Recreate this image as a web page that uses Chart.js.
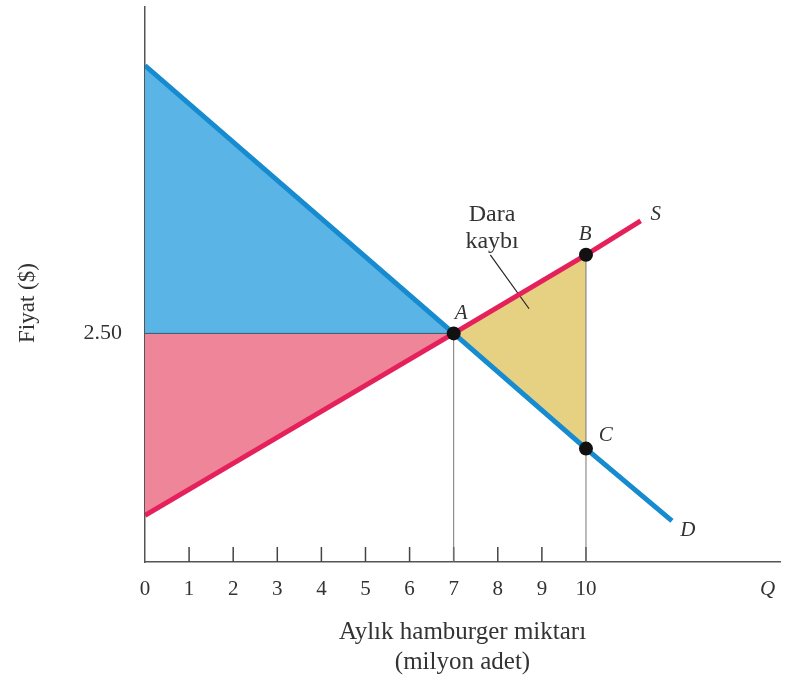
<!DOCTYPE html>
<html>
<head>
<meta charset="utf-8">
<script src="https://cdn.jsdelivr.net/npm/chart.js@4"></script>
<style>
  html, body { margin: 0; padding: 0; background: #fff; }
  #wrap { width: 788px; height: 684px; }
</style>
</head>
<body>
<div id="wrap"><canvas id="dwlChart"></canvas></div>
<script>
// quantity ticks (million burgers / month)
var qTicks = [0, 1, 2, 3, 4, 5, 6, 7, 8, 9, 10];
var qAxisName = 'Q';
var qAxisNamePos = 14.12;

// demand and supply curves
var demandQ = [0, 7, 10, 11.95];
var demandP = [5.43, 2.50, 1.24, 0.45];
var supplyQ = [0, 7, 10, 11.24];
var supplyP = [0.51, 2.50, 3.36, 3.73];

var eqPrice = 2.5;
var eqQ = 7;
var pricedQ = 10;

// marked points
var pointNames = ['A', 'B', 'C'];
var pointQ = [7, 10, 10];
var pointP = [2.50, 3.36, 1.24];

// text labels placed in data coordinates
var labelText = ['A', 'B', 'C', 'S', 'D'];
var labelQ = [7.17, 9.98, 10.45, 11.58, 12.31];
var labelP = [2.72, 3.58, 1.38, 3.80, 0.35];

var dwlLines = ['Dara', 'kaybı'];
var dwlQ = 7.87;
var dwlP = [3.80, 3.50];
var leaderQ = [7.83, 8.71];
var leaderP = [3.36, 2.77];

function pts(xs, ys) {
    return xs.map(function (q, i) { return { x: q, y: ys[i] }; });
}
function upTo(xs, ys, maxQ) {
    return pts(xs, ys).filter(function (p) { return p.x <= maxQ; });
}
function between(xs, ys, lo, hi) {
    return pts(xs, ys).filter(function (p) { return p.x >= lo && p.x <= hi; });
}

var serif = '"Liberation Serif", "DejaVu Serif", serif';

var annotate = {
    id: 'annotate',
    beforeDatasetsDraw: function (chart) {
        var ctx = chart.ctx, x = chart.scales.x, y = chart.scales.y;
        ctx.save();
        ctx.strokeStyle = '#444';
        ctx.lineWidth = 1.5;
        qTicks.slice(1).forEach(function (q) {
            var px = x.getPixelForValue(q);
            ctx.beginPath();
            ctx.moveTo(px, y.bottom);
            ctx.lineTo(px, y.bottom - 15);
            ctx.stroke();
        });
        ctx.restore();
    },
    afterDatasetsDraw: function (chart) {
        var ctx = chart.ctx, x = chart.scales.x, y = chart.scales.y;
        ctx.save();
        ctx.fillStyle = '#333';
        ctx.textAlign = 'center';
        ctx.textBaseline = 'middle';
        ctx.font = 'italic 21px ' + serif;
        labelText.forEach(function (t, i) {
            ctx.fillText(t, x.getPixelForValue(labelQ[i]), y.getPixelForValue(labelP[i]));
        });
        ctx.font = '24px ' + serif;
        dwlLines.forEach(function (t, i) {
            ctx.fillText(t, x.getPixelForValue(dwlQ), y.getPixelForValue(dwlP[i]));
        });
        // y axis title
        ctx.font = '23px ' + serif;
        ctx.translate(28, 303);
        ctx.rotate(-Math.PI / 2);
        ctx.fillText('Fiyat ($)', 0, 0);
        ctx.restore();
    }
};

new Chart(document.getElementById('dwlChart'), {
    type: 'line',
    data: {
        datasets: [
            {   // equilibrium and marked points
                data: pts(pointQ, pointP),
                showLine: false,
                pointRadius: 7,
                pointBackgroundColor: '#111',
                pointBorderWidth: 0,
                order: 0
            },
            {   // demand
                data: pts(demandQ, demandP),
                borderColor: '#168bcf',
                borderWidth: 5,
                pointRadius: 0,
                order: 1
            },
            {   // supply
                data: pts(supplyQ, supplyP),
                borderColor: '#e5215c',
                borderWidth: 5,
                pointRadius: 0,
                order: 1
            },
            {   // drop line at A
                data: pts([eqQ, eqQ], [0, eqPrice]),
                borderColor: '#777',
                borderWidth: 1,
                pointRadius: 0,
                order: 2
            },
            {   // drop line through B and C
                data: pts([pricedQ, pricedQ], [0, pointP[1]]),
                borderColor: '#777',
                borderWidth: 1,
                pointRadius: 0,
                order: 2
            },
            {   // leader line for dead-weight label
                data: pts(leaderQ, leaderP),
                borderColor: '#222',
                borderWidth: 1.2,
                pointRadius: 0,
                order: 2
            },
            {   // price line between the two surpluses
                data: pts([0, eqQ], [eqPrice, eqPrice]),
                borderColor: '#3a5a6a',
                borderWidth: 1,
                pointRadius: 0,
                order: 2
            },
            {   // consumer surplus
                data: upTo(demandQ, demandP, eqQ),
                borderWidth: 0,
                pointRadius: 0,
                backgroundColor: '#5ab4e6',
                fill: { value: eqPrice },
                order: 3
            },
            {   // producer surplus
                data: upTo(supplyQ, supplyP, eqQ),
                borderWidth: 0,
                pointRadius: 0,
                backgroundColor: '#ef8599',
                fill: { value: eqPrice },
                order: 3
            },
            {   // dead-weight loss, lower edge
                data: between(demandQ, demandP, eqQ, pricedQ),
                borderWidth: 0,
                pointRadius: 0,
                fill: false,
                order: 3
            },
            {   // dead-weight loss, upper edge filled down to dataset 9
                data: between(supplyQ, supplyP, eqQ, pricedQ),
                borderWidth: 0,
                pointRadius: 0,
                backgroundColor: '#e6d183',
                fill: 9,
                order: 3
            }
        ]
    },
    options: {
        responsive: true,
        maintainAspectRatio: false,
        animation: false,
        layout: { padding: { top: 4, right: 8, left: 0, bottom: 0 } },
        plugins: {
            legend: { display: false },
            tooltip: { enabled: false }
        },
        scales: {
            x: {
                type: 'linear',
                min: 0,
                max: 14.4,
                afterFit: function (scale) {
                    scale.height = 122;
                    scale.paddingLeft = 0;
                    scale.paddingRight = 0;
                },
                afterBuildTicks: function (scale) {
                    scale.ticks = qTicks.concat([qAxisNamePos]).map(function (v) { return { value: v }; });
                },
                grid: { display: false, drawTicks: false },
                border: { display: true, color: '#555', width: 1.5 },
                ticks: {
                    autoSkip: false,
                    maxRotation: 0,
                    padding: 15,
                    color: '#333',
                    font: function (c) {
                        return c.tick && c.tick.value === qAxisNamePos
                            ? { family: serif, size: 21, style: 'italic' }
                            : { family: serif, size: 21 };
                    },
                    callback: function (v) { return v === qAxisNamePos ? qAxisName : String(v); }
                },
                title: {
                    display: true,
                    text: ['Aylık hamburger miktarı', '(milyon adet)'],
                    color: '#333',
                    font: { family: serif, size: 25, lineHeight: '30px' },
                    padding: { top: 0, bottom: 7 }
                }
            },
            y: {
                type: 'linear',
                min: 0,
                max: 6.07,
                afterFit: function (scale) {
                    scale.width = 145;
                    scale.paddingTop = 0;
                    scale.paddingBottom = 0;
                },
                afterBuildTicks: function (scale) {
                    scale.ticks = [{ value: eqPrice }];
                },
                grid: { display: false, drawTicks: false },
                border: { display: true, color: '#555', width: 1.5 },
                ticks: {
                    padding: 23,
                    color: '#333',
                    font: { family: serif, size: 22 },
                    callback: function (v) { return v.toFixed(2); }
                }
            }
        }
    },
    plugins: [annotate]
});
</script>
</body>
</html>
